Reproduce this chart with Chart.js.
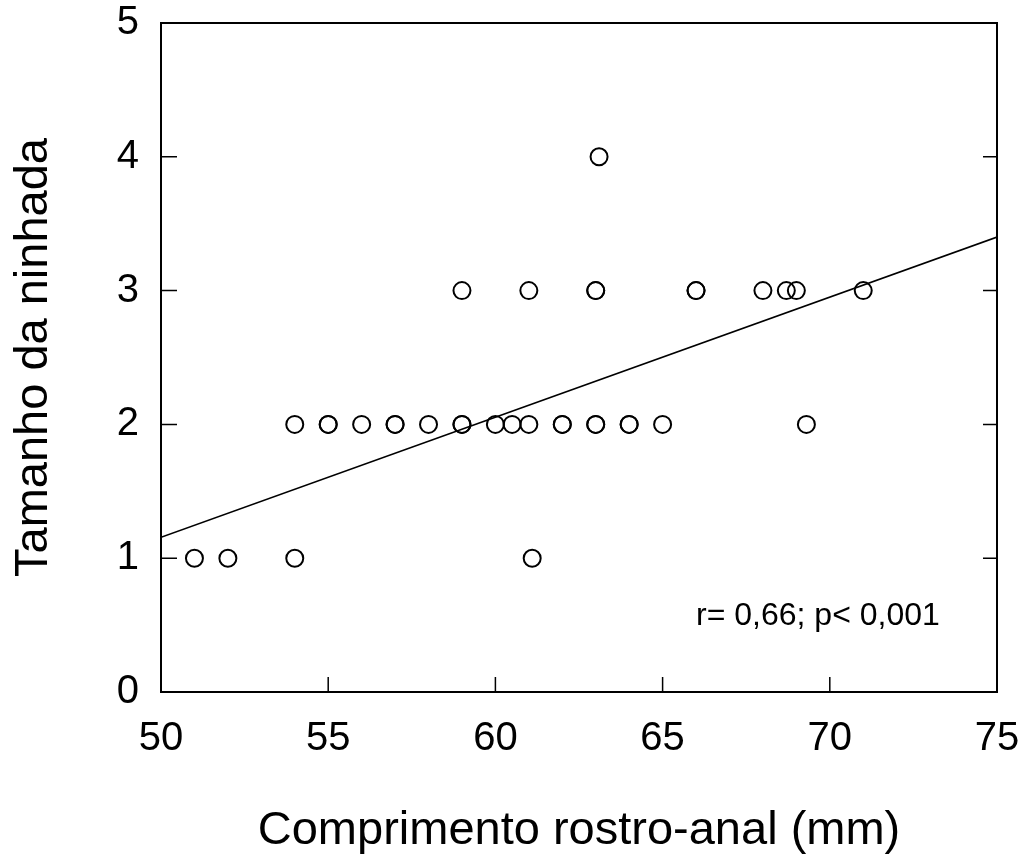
<!DOCTYPE html>
<html>
<head>
<meta charset="utf-8">
<script src="https://cdn.jsdelivr.net/npm/chart.js@4.4.0/dist/chart.umd.min.js"></script>
<style>
  html, body { margin: 0; padding: 0; background: #fff; }
  #wrap { width: 1031px; height: 856px; }
</style>
</head>
<body>
<div id="wrap"><canvas id="chart"></canvas></div>
<script>
// Comprimento rostro-anal (mm) vs tamanho da ninhada
const snoutVentLength = [51, 52, 54, 61.1,
    54, 55, 55, 56, 57, 57, 58, 59, 59, 60, 60.5, 61, 62, 62, 63, 63, 64, 64, 65, 69.3,
    59, 61, 63, 63, 66, 66, 68, 68.7, 69, 71,
    63.1];
const litterSize = [1, 1, 1, 1,
    2, 2, 2, 2, 2, 2, 2, 2, 2, 2, 2, 2, 2, 2, 2, 2, 2, 2, 2, 2,
    3, 3, 3, 3, 3, 3, 3, 3, 3, 3,
    4];

// regression line endpoints
const fitX = [50, 75];
const fitY = [1.156, 3.40];

const xTicks = [50, 55, 60, 65, 70, 75];
const yTicks = [0, 1, 2, 3, 4, 5];
const statsLabel = 'r= 0,66; p< 0,001';
const statsPos = [66, 0.5];

const FONT = "'Liberation Sans', Arial, sans-serif";

// frame + inward tick marks + stats text
const framePlugin = {
    id: 'frame',
    afterDraw(chart) {
        const ctx = chart.ctx;
        const a = chart.chartArea;
        const xs = chart.scales.x, ys = chart.scales.y;
        ctx.save();
        ctx.strokeStyle = '#000';
        ctx.lineWidth = 2;
        ctx.strokeRect(a.left, a.top, a.right - a.left, a.bottom - a.top);

        ctx.lineWidth = 1.5;
        ctx.beginPath();
        xTicks.slice(1, -1).forEach(v => {
            const px = xs.getPixelForValue(v);
            ctx.moveTo(px, a.bottom);
            ctx.lineTo(px, a.bottom - 15);
        });
        yTicks.slice(1, -1).forEach(v => {
            const py = ys.getPixelForValue(v);
            ctx.moveTo(a.left, py);
            ctx.lineTo(a.left + 16, py);
            ctx.moveTo(a.right, py);
            ctx.lineTo(a.right - 14, py);
        });
        ctx.stroke();

        ctx.fillStyle = '#000';
        ctx.font = '32px ' + FONT;
        ctx.textAlign = 'left';
        ctx.textBaseline = 'alphabetic';
        ctx.fillText(statsLabel, xs.getPixelForValue(statsPos[0]), ys.getPixelForValue(statsPos[1]));
        ctx.restore();
    }
};

const ctx = document.getElementById('chart').getContext('2d');

new Chart(ctx, {
    type: 'scatter',
    data: {
        datasets: [
            {
                label: 'Tamanho da ninhada',
                data: snoutVentLength.map((x, i) => ({ x: x, y: litterSize[i] })),
                pointStyle: 'circle',
                pointRadius: 8.5,
                pointHoverRadius: 8.5,
                pointBorderWidth: 2,
                pointBorderColor: '#000',
                pointBackgroundColor: 'rgba(0,0,0,0)',
                showLine: false,
                order: 1
            },
            {
                label: 'Regressão',
                data: fitX.map((x, i) => ({ x: x, y: fitY[i] })),
                showLine: true,
                borderColor: '#000',
                borderWidth: 1.5,
                pointRadius: 0,
                fill: false,
                order: 2
            }
        ]
    },
    options: {
        responsive: true,
        maintainAspectRatio: false,
        animation: false,
        layout: {
            padding: { top: 23, right: 34, left: 0, bottom: 0 }
        },
        scales: {
            x: {
                type: 'linear',
                min: 50,
                max: 75,
                afterBuildTicks: scale => {
                    scale.ticks = xTicks.map(v => ({ value: v }));
                },
                afterFit: scale => {
                    scale.height = 164;
                    scale.paddingLeft = 0;
                    scale.paddingRight = 0;
                },
                grid: { display: false, drawTicks: false },
                border: { display: false },
                ticks: {
                    color: '#000',
                    padding: 23,
                    maxRotation: 0,
                    font: { family: FONT, size: 40 }
                },
                title: {
                    display: true,
                    text: 'Comprimento rostro-anal (mm)',
                    color: '#000',
                    padding: { top: 0, bottom: 0 },
                    font: { family: FONT, size: 47, lineHeight: 1.05 }
                }
            },
            y: {
                type: 'linear',
                min: 0,
                max: 5,
                afterBuildTicks: scale => {
                    scale.ticks = yTicks.map(v => ({ value: v }));
                },
                afterFit: scale => {
                    scale.width = 161;
                    scale.paddingTop = 0;
                    scale.paddingBottom = 0;
                },
                grid: { display: false, drawTicks: false },
                border: { display: false },
                ticks: {
                    color: '#000',
                    padding: 22,
                    font: { family: FONT, size: 40 }
                },
                title: {
                    display: true,
                    text: 'Tamanho da ninhada',
                    color: '#000',
                    padding: { top: 6, bottom: 0 },
                    font: { family: FONT, size: 47 }
                }
            }
        },
        plugins: {
            legend: { display: false },
            tooltip: { enabled: false }
        }
    },
    plugins: [framePlugin]
});
</script>
</body>
</html>
